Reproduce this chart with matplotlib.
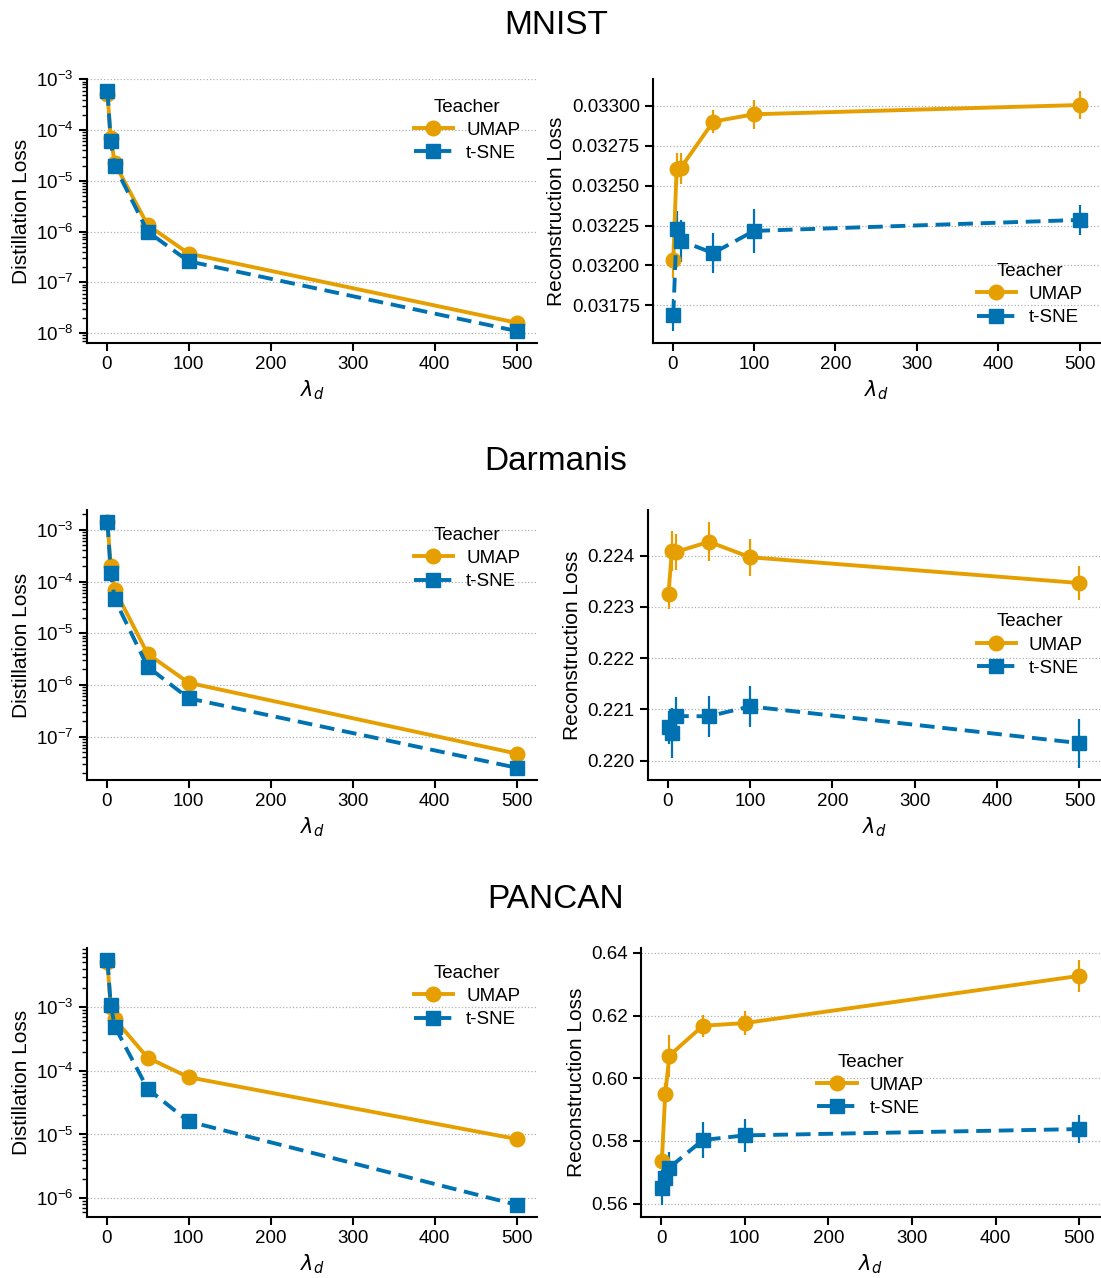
import numpy as np
import matplotlib
matplotlib.use("Agg")
import matplotlib.pyplot as plt
from matplotlib.lines import Line2D

plt.rcParams['font.family'] = ['Liberation Sans', 'DejaVu Sans']
plt.rcParams['mathtext.fontset'] = 'dejavusans'

# distillation weights
lambdas = [1, 5, 10, 50, 100, 500]

# MNIST
mnist_dist_umap = [5.2e-4, 7.0e-5, 2.2e-5, 1.35e-6, 3.7e-7, 1.6e-8]
mnist_dist_tsne = [5.9e-4, 6.0e-5, 1.96e-5, 1.0e-6, 2.6e-7, 1.1e-8]
mnist_rec_umap = [0.032033, 0.032605, 0.032610, 0.032902, 0.032948, 0.033006]
mnist_rec_umap_err = [0.000112, 0.000100, 0.000098, 0.000073, 0.000092, 0.000088]
mnist_rec_tsne = [0.031688, 0.032226, 0.032154, 0.032077, 0.032216, 0.032285]
mnist_rec_tsne_err = [0.000100, 0.000114, 0.000130, 0.000125, 0.000136, 0.000092]

# Darmanis
darm_dist_umap = [1.4e-3, 2.0e-4, 6.9e-5, 4.0e-6, 1.1e-6, 4.7e-8]
darm_dist_tsne = [1.4e-3, 1.45e-4, 4.5e-5, 2.25e-6, 5.5e-7, 2.5e-8]
darm_rec_umap = [0.223258, 0.224090, 0.224070, 0.224270, 0.223968, 0.223465]
darm_rec_umap_err = [0.00030, 0.00039, 0.00035, 0.00038, 0.00036, 0.00033]
darm_rec_tsne = [0.220652, 0.220535, 0.220870, 0.220865, 0.221058, 0.220342]
darm_rec_tsne_err = [0.00032, 0.00049, 0.00038, 0.00040, 0.00040, 0.00048]

# PANCAN
pancan_dist_umap = [5.0e-3, 1.0e-3, 6.4e-4, 1.6e-4, 7.9e-5, 8.5e-6]
pancan_dist_tsne = [5.4e-3, 1.07e-3, 4.9e-4, 5.2e-5, 1.6e-5, 7.9e-7]
pancan_rec_umap = [0.57369, 0.59501, 0.60721, 0.61676, 0.61761, 0.63268]
pancan_rec_umap_err = [0.0030, 0.0035, 0.0067, 0.0035, 0.0037, 0.0050]
pancan_rec_tsne = [0.56510, 0.56828, 0.57146, 0.58027, 0.58175, 0.58377]
pancan_rec_tsne_err = [0.0055, 0.0040, 0.0050, 0.0057, 0.0053, 0.0045]

datasets = ["MNIST", "Darmanis", "PANCAN"]
teachers = ["UMAP", "t-SNE"]
UMAP_COLOR = "#E69F00"
TSNE_COLOR = "#0072B2"
DASH = (0, (3.8, 2.0))
LW = 2.8
MS = 10.5

W, H = 1101, 1278
fig = plt.figure(figsize=(W / 100, H / 100), dpi=100)


def box(left, top, right, bottom):
    return [left / W, 1 - bottom / H, (right - left) / W, (bottom - top) / H]


def style_axes(ax):
    for s in ["top", "right"]:
        ax.spines[s].set_visible(False)
    for s in ["left", "bottom"]:
        ax.spines[s].set_linewidth(1.5)
    ax.tick_params(which="major", length=6, width=1.5, labelsize=13.5)
    ax.tick_params(which="minor", length=3.5, width=1.0)
    ax.yaxis.grid(True, which="major", linestyle=":", color="#b0b0b0", linewidth=0.9)
    ax.set_axisbelow(True)
    ax.set_xlabel(r"$\lambda_d$", fontsize=15)
    ax.set_xticks([0, 100, 200, 300, 400, 500])


def add_legend(ax, **kw):
    handles = [
        Line2D([], [], color=UMAP_COLOR, marker="o", ms=MS, lw=LW),
        Line2D([], [], color=TSNE_COLOR, marker="s", ms=MS, lw=LW, ls=DASH),
    ]
    return ax.legend(handles, teachers, title="Teacher", frameon=False,
                     fontsize=13.5, title_fontsize=13.5, handlelength=2.1,
                     handletextpad=0.7, labelspacing=0.32, **kw)


def dist_panel(ax, umap, tsne):
    ax.plot(lambdas, umap, color=UMAP_COLOR, marker="o", ms=MS, lw=LW)
    ax.plot(lambdas, tsne, color=TSNE_COLOR, marker="s", ms=MS, lw=LW, ls=DASH)
    ax.set_yscale("log")
    ax.set_ylabel("Distillation Loss", fontsize=15)
    style_axes(ax)


def rec_panel(ax, umap, umap_err, tsne, tsne_err):
    ax.errorbar(lambdas, umap, yerr=umap_err, color=UMAP_COLOR, marker="o",
                ms=MS, lw=LW, elinewidth=1.6)
    ax.errorbar(lambdas, tsne, yerr=tsne_err, color=TSNE_COLOR, marker="s",
                ms=MS, lw=LW, elinewidth=1.6, ls=DASH)
    ax.set_ylabel("Reconstruction Loss", fontsize=15)
    style_axes(ax)


rows = [(79, 343), (510, 780), (948, 1217)]
right_lefts = [653, 648, 641]
title_y = [25, 462, 899]

for i, name in enumerate(datasets):
    fig.text(0.505, 1 - title_y[i] / H, name, ha="center", va="center",
             fontsize=24)

# MNIST
ax = fig.add_axes(box(87, rows[0][0], 537, rows[0][1]))
dist_panel(ax, mnist_dist_umap, mnist_dist_tsne)
add_legend(ax, loc="upper right", bbox_to_anchor=(1.0, 0.99))
ax = fig.add_axes(box(right_lefts[0], rows[0][0], 1100, rows[0][1]))
rec_panel(ax, mnist_rec_umap, mnist_rec_umap_err, mnist_rec_tsne, mnist_rec_tsne_err)
ax.set_yticks([0.03175, 0.03200, 0.03225, 0.03250, 0.03275, 0.03300])
ax.set_yticklabels(["0.03175", "0.03200", "0.03225", "0.03250", "0.03275", "0.03300"])
add_legend(ax, loc="lower right", bbox_to_anchor=(1.0, 0.0))

# Darmanis
ax = fig.add_axes(box(87, rows[1][0], 537, rows[1][1]))
dist_panel(ax, darm_dist_umap, darm_dist_tsne)
add_legend(ax, loc="upper right", bbox_to_anchor=(1.0, 1.0))
ax = fig.add_axes(box(right_lefts[1], rows[1][0], 1100, rows[1][1]))
rec_panel(ax, darm_rec_umap, darm_rec_umap_err, darm_rec_tsne, darm_rec_tsne_err)
ax.set_yticks([0.220, 0.221, 0.222, 0.223, 0.224])
ax.set_yticklabels(["0.220", "0.221", "0.222", "0.223", "0.224"])
add_legend(ax, loc="center right", bbox_to_anchor=(1.0, 0.5))

# PANCAN
ax = fig.add_axes(box(87, rows[2][0], 537, rows[2][1]))
dist_panel(ax, pancan_dist_umap, pancan_dist_tsne)
add_legend(ax, loc="upper right", bbox_to_anchor=(1.0, 1.0))
ax = fig.add_axes(box(right_lefts[2], rows[2][0], 1100, rows[2][1]))
rec_panel(ax, pancan_rec_umap, pancan_rec_umap_err, pancan_rec_tsne, pancan_rec_tsne_err)
ax.set_yticks([0.56, 0.58, 0.60, 0.62, 0.64])
ax.set_yticklabels(["0.56", "0.58", "0.60", "0.62", "0.64"])
add_legend(ax, loc="center", bbox_to_anchor=(0.5, 0.49))

fig.savefig("out.png", dpi=100)
